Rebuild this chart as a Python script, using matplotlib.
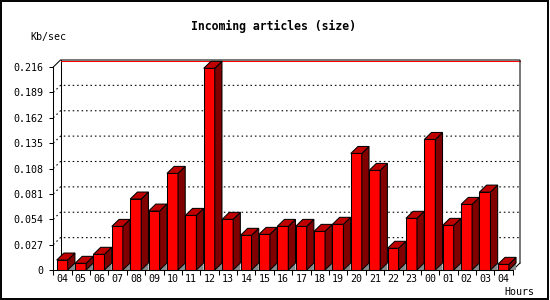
import matplotlib
matplotlib.use("Agg")
import matplotlib.pyplot as plt
from matplotlib.patches import Polygon, Rectangle

hours = ["04", "05", "06", "07", "08", "09", "10", "11", "12", "13", "14", "15",
         "16", "17", "18", "19", "20", "21", "22", "23", "00", "01", "02", "03", "04"]
values = [0.0106, 0.0071, 0.0167, 0.0464, 0.0755, 0.0627, 0.1028, 0.0581, 0.2146,
          0.0539, 0.0369, 0.0379, 0.0464, 0.0464, 0.0411, 0.0486, 0.1240, 0.1060,
          0.0231, 0.0550, 0.1389, 0.0475, 0.0698, 0.0829, 0.0060]
yticks = [0, 0.027, 0.054, 0.081, 0.108, 0.135, 0.162, 0.189, 0.216]
ytick_labels = ["0", "0.027", "0.054", "0.081", "0.108", "0.135", "0.162", "0.189", "0.216"]
title = "Incoming articles (size)"
ylabel = "Kb/sec"
xlabel = "Hours"

W, H, DPI = 550, 300, 100
fig = plt.figure(figsize=(W / DPI, H / DPI), dpi=DPI)
fig.patch.set_facecolor("white")

mono = "DejaVu Sans Mono"
fs = 7.2

# axes placed so the front axis spans the plotting area
left_px, right_px, top_px, bottom_px = 53.3, 512.8, 67, 270
ax = fig.add_axes([left_px / W, 1 - bottom_px / H, (right_px - left_px) / W,
                   (bottom_px - top_px) / H])
ax.set_facecolor("none")
n = len(values)
ax.set_xlim(0, n)
ax.set_ylim(0, yticks[-1])

# depth offset in data units (3D effect)
p0 = ax.transData.transform((0, 0))
p1 = ax.transData.transform((1, yticks[-1]))
px_x = p1[0] - p0[0]
px_y = (p1[1] - p0[1]) / yticks[-1]
dx = 7.2 / px_x
dy = 7.0 / px_y
onepx = 1.0 / px_y

lw = 0.75
ymax = yticks[-1]

# back wall gridlines (dotted), including diagonal part on left wall
for v in yticks[1:-1]:
    ax.plot([0, dx, n + dx], [v, v + dy, v + dy], color="black", lw=0.8,
            linestyle=(0, (1.4, 2.6)), zorder=1, clip_on=False)

# back wall frame
ax.plot([dx, dx], [dy, ymax + dy], color="black", lw=lw, zorder=1, clip_on=False)
ax.plot([0, dx, n + dx, n + dx], [ymax, ymax + dy, ymax + dy, dy], color="black",
        lw=lw, zorder=1.5, clip_on=False)
ax.plot([dx + 0.05, n + dx], [ymax + dy - onepx, ymax + dy - onepx], color="red",
        lw=lw, zorder=1.4, clip_on=False)
ax.plot([n, n + dx], [0, dy], color="black", lw=lw, zorder=1, clip_on=False)

# bars
off = 0.185
bw = 0.6
for i, v in enumerate(values):
    x0 = i + off
    x1 = x0 + bw
    shadow = Polygon([(x1, 0), (x1 + dx, dy), (x1 + dx, 0)], closed=True,
                     facecolor="#8a8a8a", edgecolor="none", zorder=2, clip_on=False)
    front = Polygon([(x0, 0), (x1, 0), (x1, v), (x0, v)], closed=True,
                    facecolor="#ff0000", edgecolor="black", lw=lw, zorder=3,
                    clip_on=False)
    side = Polygon([(x1, 0), (x1 + dx, dy), (x1 + dx, v + dy), (x1, v)], closed=True,
                   facecolor="#800000", edgecolor="black", lw=lw, zorder=3,
                   clip_on=False)
    top = Polygon([(x0, v), (x1, v), (x1 + dx, v + dy), (x0 + dx, v + dy)],
                  closed=True, facecolor="#c00000", edgecolor="black", lw=lw,
                  zorder=3, clip_on=False)
    for p in (shadow, front, side, top):
        ax.add_patch(p)

# spines
for s in ("top", "right"):
    ax.spines[s].set_visible(False)
for s in ("left", "bottom"):
    ax.spines[s].set_linewidth(lw)
    ax.spines[s].set_zorder(4)

ax.set_yticks(yticks)
ax.set_yticklabels(ytick_labels, fontfamily=mono, fontsize=fs)
ax.tick_params(axis="y", length=3, width=lw, pad=4)

ax.set_xticks(range(n + 1))
ax.set_xticklabels([])
ax.tick_params(axis="x", which="major", length=3.5, width=lw)
ax.set_xticks([i + 0.5 for i in range(n)], minor=True)
ax.set_xticklabels(hours, minor=True, fontfamily=mono, fontsize=fs)
ax.tick_params(axis="x", which="minor", length=0, pad=3)

fig.text(273.7 / W, 1 - 26 / H, title, ha="center", va="center",
         fontfamily=mono, fontweight="bold", fontsize=8.3)
fig.text(30 / W, 1 - 37 / H, ylabel, ha="left", va="center", fontfamily=mono,
         fontsize=fs)
fig.text(534 / W, 1 - 292 / H, xlabel, ha="right", va="center", fontfamily=mono,
         fontsize=fs)

# outer frame
fig.add_artist(Rectangle((1 / W, 1.5 / H), 547 / W, 297.5 / H, transform=fig.transFigure,
                         fill=False, edgecolor="black", lw=1.4))

fig.savefig("out.png", dpi=DPI)
